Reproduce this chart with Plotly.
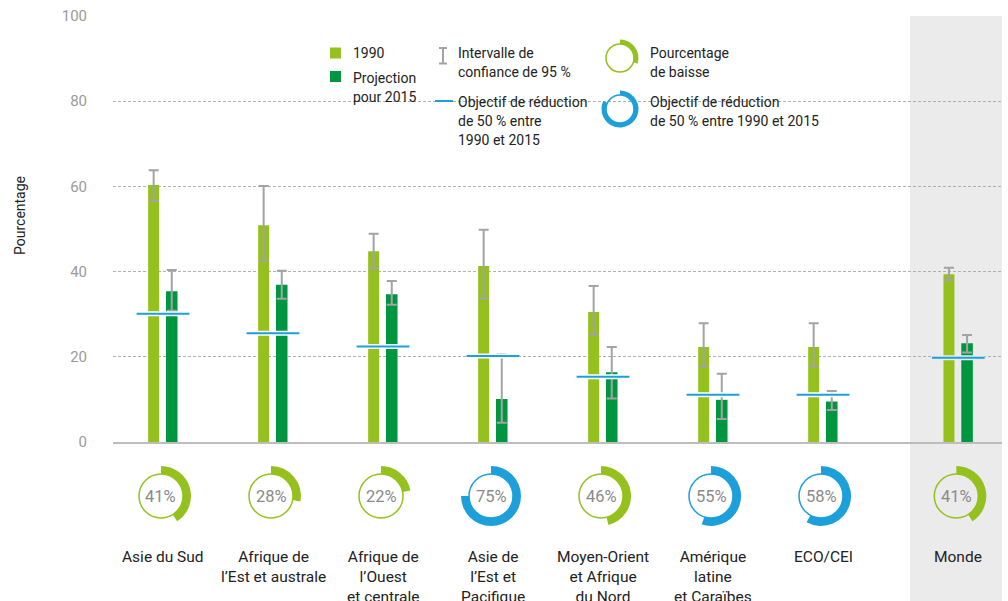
import plotly.graph_objects as go

# ---------------- data ----------------
regions = ["Asie du Sud", "Afrique de<br>l’Est et australe", "Afrique de<br>l’Ouest<br>et centrale",
           "Asie de<br>l’Est et<br>Pacifique", "Moyen-Orient<br>et Afrique<br>du Nord",
           "Amérique<br>latine<br>et Caraïbes", "ECO/CEI", "Monde"]
v1990 = [60.3, 50.9, 44.8, 41.3, 30.5, 22.3, 22.3, 39.4]
v1990_hi = [63.8, 60.1, 48.9, 49.8, 36.6, 27.9, 27.9, 40.9]
v1990_lo = [56.6, 42.6, 40.8, 33.6, 25.2, 17.7, 17.7, 38.0]
v2015 = [35.4, 36.9, 34.7, 10.1, 16.4, 9.9, 9.5, 23.2]
v2015_hi = [40.4, 40.2, 37.8, 20.6, 22.3, 16.0, 12.0, 25.1]
v2015_lo = [30.8, 33.6, 32.2, 4.5, 10.2, 5.4, 7.5, 21.0]
target = [30.1, 25.5, 22.4, 20.2, 15.3, 11.1, 11.1, 19.8]
decline = [41, 28, 22, 75, 46, 55, 58, 41]
yticks = [0, 20, 40, 60, 80, 100]

# ---------------- layout helpers ----------------
W, H = 1008, 601
ML, MR, MT, MB = 113, 6, 16, 0
PW, PH = W - ML - MR, H - MT - MB
XR = [-0.4545, 7.627]
Y_DOM0 = (H - 442) / PH
xpos = list(range(len(regions) - 1)) + [len(regions) - 1 + 0.23]

LIGHT = "#95C11F"
DARK = "#009640"
BLUE = "#1D9FDA"
GREYBAR = "#a3a3a3"
BAND = "#ebebeb"
FONT = "Roboto"


def paper_x_data(x):
    return (x - XR[0]) / (XR[1] - XR[0])


def pxx(px):
    return (px - ML) / PW


def pxy(py):
    return (H - py) / PH


fig = go.Figure()

# bars
fig.add_trace(go.Bar(
    x=xpos, y=v1990, width=0.1, offset=-0.135, marker=dict(color=LIGHT, line=dict(width=0)),
    error_y=dict(type="data", symmetric=False,
                 array=[h - v for h, v in zip(v1990_hi, v1990)],
                 arrayminus=[v - l for l, v in zip(v1990_lo, v1990)],
                 color=GREYBAR, thickness=2, width=5),
    showlegend=False, hoverinfo="skip"))
fig.add_trace(go.Bar(
    x=xpos, y=v2015, width=0.105, offset=0.027, marker=dict(color=DARK, line=dict(width=0)),
    error_y=dict(type="data", symmetric=False,
                 array=[h - v for h, v in zip(v2015_hi, v2015)],
                 arrayminus=[v - l for l, v in zip(v2015_lo, v2015)],
                 color=GREYBAR, thickness=2, width=5),
    showlegend=False, hoverinfo="skip"))

# target lines (halo + line)
for halo_col, idxs in (("white", range(len(regions) - 1)), (BAND, [len(regions) - 1])):
    xs, ys = [], []
    for i in idxs:
        xs += [xpos[i] - 0.24, xpos[i] + 0.24, None]
        ys += [target[i], target[i], None]
    fig.add_trace(go.Scatter(x=xs, y=ys, mode="lines", line=dict(color=halo_col, width=5),
                             showlegend=False, hoverinfo="skip"))
xs, ys = [], []
for i in range(len(regions)):
    xs += [xpos[i] - 0.24, xpos[i] + 0.24, None]
    ys += [target[i], target[i], None]
fig.add_trace(go.Scatter(x=xs, y=ys, mode="lines", line=dict(color=BLUE, width=2),
                         showlegend=False, hoverinfo="skip"))

shapes = []
annotations = []

# grey band for Monde
shapes.append(dict(type="rect", xref="paper", yref="paper", x0=pxx(910), x1=1.0, y0=0, y1=1,
                   fillcolor=BAND, line=dict(width=0), layer="below"))


def donut(cx, cy, pct, col, r_out, r_in, thin_w=1.5):
    fig.add_trace(go.Pie(
        values=[pct, 100 - pct], hole=r_in / r_out, sort=False, direction="clockwise", rotation=0,
        marker=dict(colors=[col, "rgba(0,0,0,0)"], line=dict(width=0)),
        textinfo="none", hoverinfo="skip", showlegend=False, automargin=False,
        domain=dict(x=[cx - r_out / PW, cx + r_out / PW], y=[cy - r_out / PH, cy + r_out / PH])))
    shapes.append(dict(type="circle", xref="paper", yref="paper", xsizemode="pixel", ysizemode="pixel",
                       xanchor=cx, yanchor=cy, x0=-r_in, x1=r_in, y0=-r_in, y1=r_in,
                       line=dict(color=col, width=thin_w), fillcolor="rgba(0,0,0,0)"))


# donuts under each region
cy_d = pxy(496)
for i, d in enumerate(decline):
    col = BLUE if d >= 50 else LIGHT
    cx = paper_x_data(xpos[i]) - 2 / PW
    donut(cx, cy_d, d, col, 30, 22)
    annotations.append(dict(x=cx, y=cy_d, xref="paper", yref="paper", text=f"{d}%", showarrow=False,
                            font=dict(family=FONT, size=16.5, color="#8a8a8a"),
                            xanchor="center", yanchor="middle"))
    annotations.append(dict(x=paper_x_data(xpos[i]), y=pxy(546), xref="paper", yref="paper",
                            text=regions[i], showarrow=False, align="center",
                            font=dict(family=FONT, size=15.5, color="#222222"),
                            xanchor="center", yanchor="top"))

# ---------------- custom legend ----------------
def legend_text(px, py, txt):
    annotations.append(dict(x=pxx(px), y=pxy(py), xref="paper", yref="paper", text=txt,
                            showarrow=False, xanchor="left", yanchor="middle",
                            font=dict(family=FONT, size=14, color="#222222")))


shapes.append(dict(type="rect", xref="paper", yref="paper", x0=pxx(330), x1=pxx(341),
                   y0=pxy(58.5), y1=pxy(47.5), fillcolor=LIGHT, line=dict(width=0)))
shapes.append(dict(type="rect", xref="paper", yref="paper", x0=pxx(330), x1=pxx(341),
                   y0=pxy(82), y1=pxy(71), fillcolor=DARK, line=dict(width=0)))
legend_text(351, 52.5, "1990")
legend_text(351, 78, "Projection")
legend_text(351, 97, "pour 2015")

# error bar icon
for (x0, y0, x1, y1) in ((443, 48, 443, 63.5), (439, 48, 447, 48), (439, 63.5, 447, 63.5)):
    shapes.append(dict(type="line", xref="paper", yref="paper", x0=pxx(x0), x1=pxx(x1),
                       y0=pxy(y0), y1=pxy(y1), line=dict(color=GREYBAR, width=2)))
legend_text(456, 52.5, "Intervalle de")
legend_text(456, 71.5, "confiance de 95 %")

shapes.append(dict(type="line", xref="paper", yref="paper", x0=pxx(435), x1=pxx(453),
                   y0=pxy(101), y1=pxy(101), line=dict(color=BLUE, width=2)))
legend_text(456, 101.5, "Objectif de réduction")
legend_text(456, 120.5, "de 50 % entre")
legend_text(456, 139.5, "1990 et 2015")

donut(pxx(620), pxy(58), 30, LIGHT, 18.5, 14)
donut(pxx(620), pxy(109), 82, BLUE, 18.5, 14)
legend_text(648, 52.5, "Pourcentage")
legend_text(648, 71.5, "de baisse")
legend_text(648, 101.5, "Objectif de réduction")
legend_text(648, 120.5, "de 50 % entre 1990 et 2015")

# y title
annotations.append(dict(x=pxx(20), y=pxy(216), xref="paper", yref="paper", text="Pourcentage",
                        textangle=-90, showarrow=False, xanchor="center", yanchor="middle",
                        font=dict(family=FONT, size=14, color="#222222")))

fig.update_layout(
    width=W, height=H, autosize=False,
    margin=dict(l=ML, r=MR, t=MT, b=MB, pad=0, autoexpand=False),
    paper_bgcolor="white", plot_bgcolor="rgba(0,0,0,0)",
    barmode="overlay", showlegend=False,
    font=dict(family=FONT, size=15, color="#222222"),
    xaxis=dict(range=XR, showgrid=False, zeroline=False, showticklabels=False, ticks="",
               showline=True, linecolor="#bdbdbd", linewidth=2, fixedrange=True, automargin=False),
    yaxis=dict(range=[0, 100], domain=[Y_DOM0, 1], tickvals=yticks, showgrid=True,
               gridcolor="#b0b0b0", gridwidth=1, griddash="3px,2px", zeroline=False,
               ticks="outside", ticklen=22, tickcolor="rgba(0,0,0,0)", automargin=False,
               tickfont=dict(family=FONT, size=15, color="#9a9a9a"), showline=False, fixedrange=True),
    shapes=shapes, annotations=annotations,
)

fig.write_html("out.html", config={"displayModeBar": False},
               post_script="document.body.style.margin='0px';document.body.style.overflow='hidden';")
